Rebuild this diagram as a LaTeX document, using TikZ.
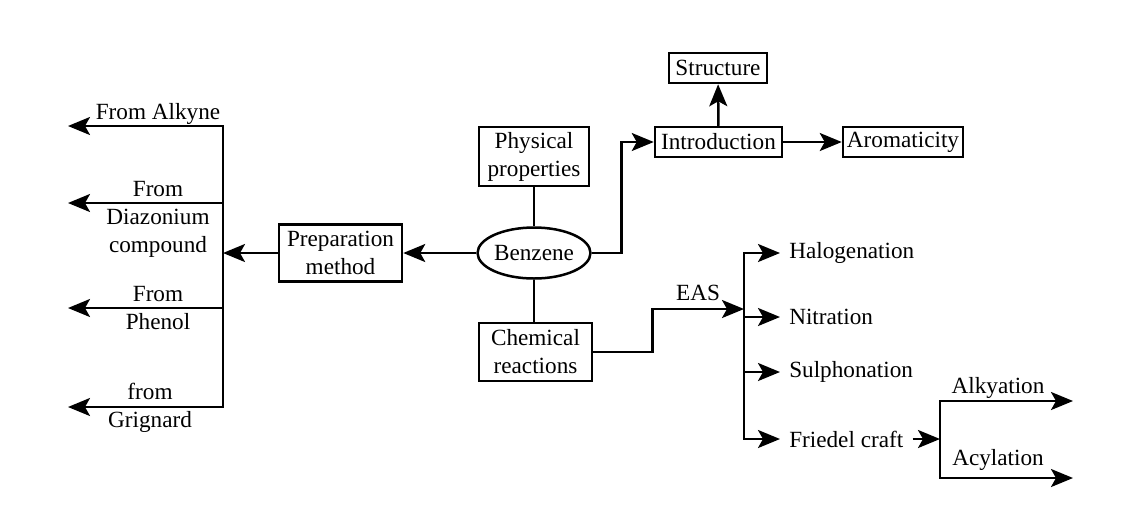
\documentclass[tikz,border=0pt]{standalone}
\usepackage{fontspec}
\setmainfont{Liberation Serif}
\usetikzlibrary{arrows.meta,shapes.geometric}

\begin{document}
\begin{tikzpicture}[x=0.5pt,y=-0.5pt,line width=1.25pt,font=\fontsize{11.6}{14}\selectfont]
\tikzset{boite/.style={draw, align=center, inner sep=1pt, minimum height=15pt},
fleche/.style={-{Stealth[length=11pt,width=9pt,inset=2.5pt]}},
feuille/.style={anchor=west, inner xsep=4pt, inner ysep=1pt}}
\useasboundingbox (0,0) rectangle (1144,531);
\node[boite, minimum width=49pt] (S) at (718,68) {Structure};
\node[boite, minimum width=63.5pt] (I) at (718.5,142) {Introduction};
\node[boite, minimum width=60pt] (Ar) at (903,142) {Aromaticity};
\node[boite, minimum width=55pt, minimum height=29.5pt] (P) at (534,156.5) {Physical\\properties};
\node[draw, ellipse, minimum width=53.5pt, minimum height=25.5pt, inner sep=0pt] (B) at (534,253) {Benzene};
\node[boite, minimum width=56.5pt, minimum height=29pt] (C) at (535.5,352) {Chemical\\reactions};
\node[boite, minimum width=61.5pt, minimum height=28.5pt] (Prep) at (340.5,253) {Preparation\\method};
\draw (P) -- (B);
\draw (B.south) -- (B.south |- C.north);
\draw[fleche] (B) -- (Prep);
\draw[fleche] (B.east) -- ++(30,0) |- (I);
\draw[fleche] (I) -- (S);
\draw[fleche] (I) -- (Ar);
\coordinate (J1) at (223,253);
\coordinate (A1) at (68,126);
\coordinate (A2) at (68,203);
\coordinate (A3) at (68,308);
\coordinate (A4) at (68,407);
\draw[fleche] (Prep) -- (J1);
\draw[fleche] (J1) |- (A1);
\draw[fleche] (J1) |- (A2);
\draw[fleche] (J1) |- (A3);
\draw[fleche] (J1) |- (A4);
\node[anchor=base] (L1) at (158,119) {From Alkyne};
\node[align=center] (L2) at (158,219) {From\\Diazonium\\compound};
\node[align=center] (L3) at (158,308) {From\\Phenol};
\node[align=center] (L4) at (150,407.5) {from\\Grignard};
\coordinate (J2) at (744,309);
\draw[fleche] (C.east) -- ++(59,0) |- (J2) node[pos=0.75, above] (E) {EAS};
\node[feuille] (H) at (780,253) {Halogenation};
\node[feuille] (N) at (780,317) {Nitration};
\node[feuille] (Su) at (780,372) {Sulphonation};
\node[feuille] (F) at (780,439) {Friedel craft};
\draw[fleche] (J2) |- (H);
\draw[fleche] (J2) |- (N);
\draw[fleche] (J2) |- (Su);
\draw[fleche] (J2) |- (F);
\coordinate (J3) at (940,439);
\coordinate (R1) at (1073,401);
\coordinate (R2) at (1073,478);
\draw[fleche] (F) -- (J3);
\draw[fleche] (J3) |- (R1);
\draw[fleche] (J3) |- (R2);
\node[anchor=base] (Al) at (998,393) {Alkyation};
\node[anchor=base] (Ac) at (998,465) {Acylation};
\end{tikzpicture}
\end{document}
